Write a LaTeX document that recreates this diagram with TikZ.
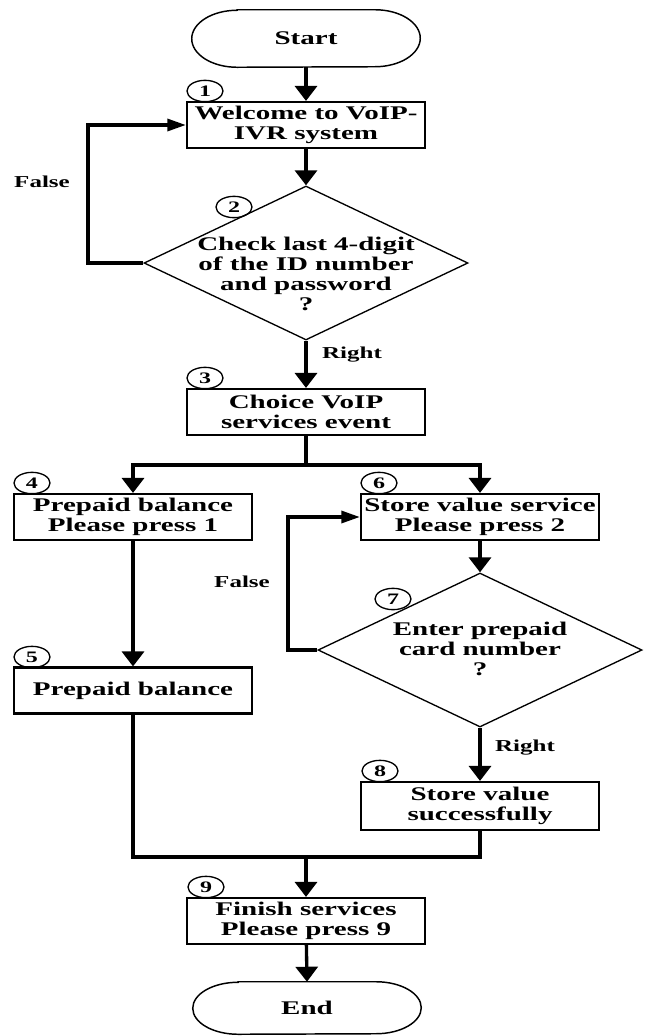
\documentclass[tikz,border=0pt]{standalone}
\usepackage{fontspec}
\setmainfont{Liberation Serif}[FakeStretch=1.5]
\usetikzlibrary{arrows.meta,shapes.geometric}

% stadium outline around a (text-only) terminal node: #1 node name, #2 half height
\newcommand\stadiumpath[2]{%
  \draw[line width=1.1pt]
    ([xshift=34pt]#1.north west) -- ([xshift=-34pt]#1.north east)
    arc[start angle=90,end angle=-90,x radius=34pt,y radius=#2]
    -- ([xshift=34pt]#1.south west)
    arc[start angle=270,end angle=90,x radius=34pt,y radius=#2] -- cycle;}

\tikzset{
  txt/.style={font=\bfseries\fontsize{14.5}{15}\selectfont},
  conn/.style={line width=2.5pt},
  arrv/.style={conn,-{Triangle[width=16.5pt,length=11.25pt]}},
  arrh/.style={conn,-{Triangle[width=9pt,length=14pt]}},
  box/.style={txt,draw,line width=1.6pt,minimum width=178.5pt,minimum height=34.5pt,
              inner sep=0.5pt,align=center},
  dia/.style={draw,diamond,line width=1pt,minimum width=243pt,minimum height=115.5pt,
              inner sep=0pt},
  diatext/.style={txt,align=center,inner sep=0pt},
  num/.style={draw,ellipse,line width=1pt,minimum width=27pt,minimum height=16pt,
              inner sep=0pt,font=\bfseries\fontsize{12}{12}\selectfont},
  lbl/.style={font=\bfseries\fontsize{12.5}{13}\selectfont,inner sep=0pt},
  term/.style={txt,minimum width=171pt,inner sep=0pt},
}

\begin{document}
\begin{tikzpicture}[x=0.75pt,y=-0.75pt]
\useasboundingbox (0,0) rectangle (646,1036);

% terminals
\node[term,minimum height=42.75pt] (start) at (306,38.5) {Start};
\stadiumpath{start}{21.375pt}
\node[term,minimum height=39pt] (stop) at (307,1008) {End};
\stadiumpath{stop}{19.5pt}

% process boxes
\node[box] (b1) at (306,125) {Welcome to VoIP-\\IVR system};
\node[box] (b3) at (306,412) {Choice VoIP\\services event};
\node[box] (b4) at (133,517) {Prepaid balance\\Please press 1};
\node[box] (b6) at (480,517) {Store value service\\Please press 2};
\node[box] (b5) at (133,690.5) {Prepaid balance};
\node[box,minimum height=36pt] (b8) at (480,806) {Store value\\successfully};
\node[box] (b9) at (306,921) {Finish services\\Please press 9};

% decisions
\node[dia] (d2) at (306,263) {};
\node[diatext] (d2t) at (306,274) {Check last 4-digit\\of the ID number\\and password\\?};
\node[dia] (d7) at (480,650) {};
\node[diatext] (d7t) at (480,649) {Enter prepaid\\card number\\?};

% step numbers
\node[num] (n1) at (205,91) {1};
\node[num] (n2) at (234,207) {2};
\node[num] (n3) at (205,378) {3};
\node[num] (n4) at (32,483) {4};
\node[num] (n5) at (32,657) {5};
\node[num] (n6) at (379,483) {6};
\node[num] (n7) at (393,599) {7};
\node[num] (n8) at (380,771) {8};
\node[num] (n9) at (206,887) {9};

% branch labels
\node[lbl] (f1l) at (42,182) {False};
\node[lbl] (r1l) at (352,355) {Right};
\node[lbl] (f2l) at (242,582) {False};
\node[lbl] (r2l) at (525,748) {Right};

% helper points
\coordinate (f1) at (88,263);
\coordinate (f2) at (288,650);
\coordinate (br) at (306,465);
\coordinate (mg) at (306,857);

% connectors
\draw[arrv] (start) -- (b1);
\draw[arrv] (b1) -- (d2.north);
\draw[arrh] (d2.west) -- (f1) |- (b1.west);
\draw[arrv] (d2.south) -- (b3.north);
\draw[conn] (b3.south) -- (br);
\draw[arrv] (br) -| (b4.north);
\draw[arrv] (br) -| (b6.north);
\draw[arrv] (b4) -- (b5);
\draw[arrv] (b6) -- (d7.north);
\draw[arrh] (d7.west) -- (f2) |- (b6.west);
\draw[arrv] (d7.south) -- (b8.north);
\draw[conn] (b5.south) |- (mg);
\draw[conn] (b8.south) |- (mg);
\draw[arrv] (mg) -- (b9.north);
\draw[arrv] (b9) -- (stop.north);
\end{tikzpicture}
\end{document}
